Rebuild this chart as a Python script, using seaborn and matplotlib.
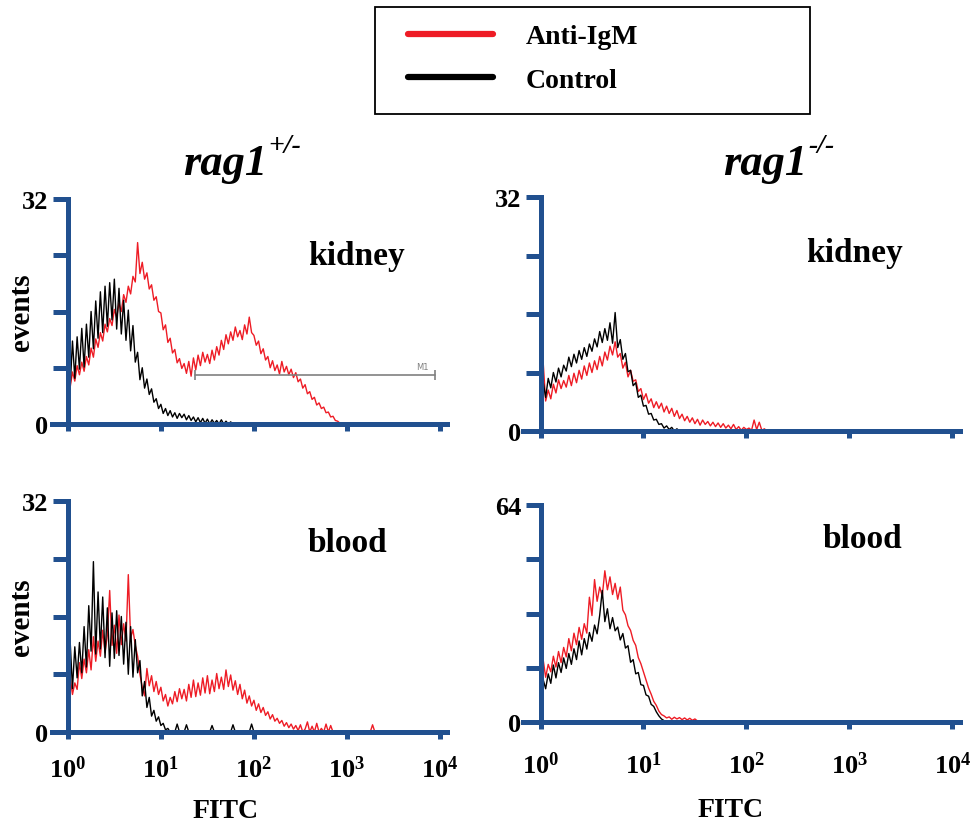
import numpy as np
import pandas as pd
import matplotlib
matplotlib.use("Agg")
import matplotlib.pyplot as plt
from matplotlib.lines import Line2D
from matplotlib.patches import Rectangle
from matplotlib.ticker import FixedLocator, FixedFormatter, NullLocator
import seaborn as sns

# =========================
# Data: histogram counts per channel (FITC, log scale)
# =========================
LOG_STEP = 0.025  # decades per channel of the cytometer histogram

# rag1 +/- kidney
het_kidney_anti = [
    6.5, 5.2, 7.4, 6.1, 8.3, 7.0, 8.8, 7.5, 9.6, 8.4,
    10.8, 9.5, 12.1, 10.9, 13.0, 11.8, 14.2, 13.1, 15.0, 14.0,
    16.3, 15.1, 17.2, 16.0, 18.4, 17.3, 19.6, 18.5, 21.0, 20.2,
    25.8, 21.4, 23.0, 20.6, 21.5, 19.2, 19.8, 17.6, 18.1, 16.0,
    15.8, 13.4, 14.1, 11.6, 12.2, 10.1, 10.6, 8.7, 9.3, 7.9,
    8.6, 7.2, 8.9, 6.8, 9.4, 7.7, 9.8, 8.3, 10.2, 8.8,
    9.9, 8.6, 10.5, 9.1, 11.0, 9.8, 11.9, 10.6, 12.7, 11.4,
    13.1, 11.9, 13.8, 12.4, 13.3, 12.0, 14.1, 12.8, 15.2, 13.0,
    12.6, 11.2, 11.8, 10.0, 10.7, 9.1, 9.6, 8.0, 9.0, 7.6,
    8.4, 7.1, 8.9, 7.4, 8.2, 7.0, 7.8, 6.6, 7.3, 6.0,
    6.4, 5.1, 5.6, 4.3, 4.6, 3.5, 3.8, 2.7, 3.0, 2.2,
    2.4, 1.6, 1.7, 1.0, 1.1, 0.5, 0.4, 0.1, 0.0, 0.0,
]
het_kidney_ctrl = [
    9.0, 5.2, 11.8, 6.5, 12.4, 7.8, 13.6, 8.1, 14.2, 9.5,
    16.0, 10.7, 17.5, 12.2, 18.8, 13.0, 19.6, 13.9, 20.1, 14.8,
    20.6, 13.5, 19.3, 12.8, 17.6, 11.9, 16.2, 10.4, 14.0, 8.8,
    10.2, 6.3, 8.0, 5.1, 6.4, 4.2, 5.0, 3.1, 3.6, 2.2,
    2.8, 1.5, 2.2, 1.2, 1.9, 1.0, 1.6, 0.8, 1.5, 0.9,
    1.4, 0.6, 1.2, 0.5, 1.0, 0.3, 0.9, 0.2, 0.8, 0.1,
    0.7, 0.0, 0.6, 0.1, 0.5, 0.0, 0.6, 0.0, 0.4, 0.0,
    0.3, 0.0, 0.2, 0.0,
]

# rag1 -/- kidney
ko_kidney_anti = [
    3.2, 9.6, 4.1, 5.6, 4.4, 6.4, 5.2, 7.0, 5.8, 6.9,
    6.0, 7.6, 6.2, 7.9, 6.6, 8.3, 7.1, 8.9, 7.6, 9.3,
    8.0, 9.6, 8.4, 10.2, 8.9, 10.8, 9.7, 11.6, 10.4, 12.2,
    10.1, 10.6, 8.6, 9.4, 7.4, 8.3, 6.8, 7.0, 5.4, 5.8,
    4.3, 5.1, 3.8, 4.4, 3.2, 4.0, 3.1, 3.8, 2.6, 3.4,
    2.4, 3.1, 2.0, 2.8, 1.7, 2.3, 1.4, 2.0, 1.2, 1.8,
    1.0, 1.6, 0.8, 1.5, 0.9, 1.3, 0.7, 1.2, 0.6, 1.1,
    0.5, 1.0, 0.4, 0.8, 0.3, 0.9, 0.2, 0.6, 0.1, 0.5,
    0.2, 0.4, 0.1, 1.5, 0.2, 1.2, 0.1, 0.3, 0.0,
]
ko_kidney_ctrl = [
    5.0, 6.8, 4.6, 7.2, 5.9, 8.0, 6.7, 8.6, 7.4, 9.0,
    8.2, 10.1, 8.8, 10.5, 9.3, 11.0, 9.8, 11.4, 10.2, 11.9,
    10.9, 12.6, 11.5, 13.6, 12.1, 14.0, 12.4, 14.8, 12.0, 16.2,
    11.4, 12.5, 9.8, 10.6, 8.1, 8.3, 6.2, 6.6, 4.6, 4.9,
    3.4, 3.5, 2.3, 2.4, 1.5, 1.6, 0.9, 1.0, 0.4, 0.7,
    0.2, 0.5, 0.0, 0.3, 0.0, 0.0,
]

# rag1 +/- blood
het_blood_anti = [
    4.0, 7.5, 5.2, 6.8, 5.9, 9.6, 7.4, 10.1, 8.2, 11.4,
    8.6, 13.2, 9.8, 12.6, 10.5, 14.1, 11.0, 13.4, 19.6, 12.0,
    14.8, 10.9, 16.2, 12.1, 15.0, 12.6, 21.8, 13.0, 14.2, 12.0,
    10.5, 8.0, 6.2, 5.0, 8.8, 6.4, 7.8, 5.6, 7.0, 5.2,
    6.2, 4.3, 5.2, 3.6, 4.8, 3.9, 5.6, 4.2, 6.0, 4.6,
    5.9, 4.3, 6.6, 4.8, 7.2, 4.9, 6.8, 5.1, 7.5, 5.4,
    7.8, 5.3, 7.2, 5.6, 8.1, 6.0, 7.6, 5.9, 8.6, 6.3,
    7.9, 5.8, 7.1, 5.2, 6.6, 4.6, 5.8, 4.0, 5.0, 3.6,
    4.4, 3.0, 3.9, 2.7, 3.4, 2.3, 2.8, 1.8, 2.4, 1.5,
    1.9, 1.2, 1.6, 0.8, 1.3, 0.6, 1.1, 0.4, 0.9, 0.2,
    1.0, 0.0, 0.4, 1.4, 0.0, 0.8, 0.0, 1.2, 0.0, 0.5,
    0.0, 1.1, 0.0, 0.9, 0.0, 0.0, 0.0, 0.0, 0.0, 0.0,
    0.0, 0.0, 0.0, 0.0, 0.0, 0.0, 0.0, 0.0, 0.0, 0.0,
    0.0, 1.0, 0.0,
]
het_blood_ctrl = [
    8.5, 12.6, 6.0, 11.8, 7.5, 12.4, 8.2, 14.6, 9.0, 17.5,
    11.2, 23.6, 10.8, 19.4, 11.5, 18.7, 10.3, 17.2, 9.1, 16.5,
    10.2, 16.8, 10.6, 16.0, 9.4, 15.2, 8.0, 14.6, 7.6, 12.8,
    8.2, 9.9, 5.0, 7.0, 3.4, 4.8, 2.2, 3.0, 1.5, 2.1,
    0.9, 1.2, 0.3, 0.5, 0.0, 0.2, 0.0, 1.1, 0.0, 0.0,
    0.0, 1.0, 0.0, 0.0, 0.0, 0.0, 0.0, 0.0, 0.0, 0.0,
    0.0, 0.0, 0.9, 0.0, 0.0, 0.0, 0.0, 0.0, 0.0, 0.0,
    0.0, 1.0, 0.0, 0.0, 0.0, 0.0, 0.0, 0.0, 0.0, 1.1,
    0.0,
]

# rag1 -/- blood
ko_blood_anti = [
    11.0, 18.6, 13.2, 17.0, 14.8, 19.4, 16.2, 20.8, 17.5, 22.0,
    19.2, 24.6, 21.0, 26.2, 22.8, 27.9, 24.4, 29.0, 26.2, 36.8,
    31.4, 42.0, 35.6, 39.8, 37.2, 44.6, 39.0, 42.8, 37.6, 40.9,
    36.2, 39.8, 33.0, 31.6, 28.4, 27.0, 24.1, 22.6, 19.0, 17.2,
    14.8, 12.4, 10.0, 8.2, 6.1, 4.9, 3.2, 2.2, 1.8, 1.2,
    1.5, 0.8, 1.4, 0.9, 1.3, 0.7, 1.2, 0.6, 1.1, 0.5,
    0.9, 0.3, 0.0,
]
ko_blood_ctrl = [
    8.5, 12.6, 9.8, 14.2, 11.4, 16.8, 13.0, 17.5, 14.6, 18.9,
    15.8, 20.2, 17.0, 21.6, 18.4, 23.9, 19.8, 24.6, 21.5, 26.4,
    23.8, 28.6, 26.0, 31.5, 38.8, 29.6, 33.4, 27.5, 30.8, 26.9,
    28.0, 24.2, 26.1, 21.8, 22.5, 17.6, 18.4, 14.2, 14.6, 11.0,
    10.8, 8.0, 7.6, 5.2, 4.6, 3.0, 1.8, 0.9, 0.4, 0.0,
]

# M1 gate drawn on the rag1 +/- kidney histogram
M1_RANGE = [23, 8900]
M1_LEVEL = 7.0

SAMPLES = ["Anti-IgM", "Control"]
X_TICKS = [1, 10, 100, 1000, 10000]
X_TICK_LABELS = ["$10^{0}$", "$10^{1}$", "$10^{2}$", "$10^{3}$", "$10^{4}$"]

RED = "#ee1c25"
AXIS_BLUE = "#21508f"
W, H = 971, 828


def to_frame(anti, ctrl):
    parts = []
    for name, counts in zip(SAMPLES, (anti, ctrl)):
        fitc = 10 ** (np.arange(len(counts)) * LOG_STEP)
        parts.append(pd.DataFrame({"FITC": fitc, "events": counts, "sample": name}))
    return pd.concat(parts, ignore_index=True)


def px_box(left, top, right, bottom):
    return [left / W, 1 - bottom / H, (right - left) / W, (bottom - top) / H]


sns.set_style("white")
plt.rcParams["font.family"] = ["Liberation Serif", "DejaVu Serif"]
plt.rcParams["font.weight"] = "bold"
plt.rcParams["axes.labelweight"] = "bold"
plt.rcParams["text.color"] = "black"
plt.rcParams["axes.labelcolor"] = "black"
plt.rcParams["xtick.labelcolor"] = "black"
plt.rcParams["ytick.labelcolor"] = "black"
plt.rcParams["mathtext.fontset"] = "custom"
plt.rcParams["mathtext.rm"] = "Liberation Serif:bold"
plt.rcParams["mathtext.it"] = "Liberation Serif:bold:italic"
plt.rcParams["mathtext.bf"] = "Liberation Serif:bold"

fig = plt.figure(figsize=(W / 100, H / 100), dpi=100)

panels = [
    # box px, data, ymax, title, title px (x, baseline), bottom row
    dict(box=(52, 200, 447, 425), df=to_frame(het_kidney_anti, het_kidney_ctrl),
         ymax=32, title="kidney", tpos=(356, 265), bottom=False, left=True),
    dict(box=(523, 198, 960, 432), df=to_frame(ko_kidney_anti, ko_kidney_ctrl),
         ymax=32, title="kidney", tpos=(854, 262), bottom=False, left=False),
    dict(box=(52, 502, 447, 733), df=to_frame(het_blood_anti, het_blood_ctrl),
         ymax=32, title="blood", tpos=(347, 552), bottom=True, left=True, xpad=12,
         xlab=(0.44, -0.285)),
    dict(box=(523, 506, 960, 723), df=to_frame(ko_blood_anti, ko_blood_ctrl),
         ymax=64, title="blood", tpos=(862, 548), bottom=True, left=False, xpad=16,
         xlab=(0.474, -0.345)),
]

axes = []
for p in panels:
    ax = fig.add_axes(px_box(*p["box"]))
    sns.lineplot(data=p["df"], x="FITC", y="events", hue="sample",
                 hue_order=SAMPLES, palette={"Anti-IgM": RED, "Control": "black"},
                 estimator=None, legend=False, lw=1.0, ax=ax)
    ax.set_xscale("log")
    ax.set_xlim(10 ** -0.17, 10 ** 4.075)
    ax.set_ylim(0, p["ymax"])

    for side in ("top", "right"):
        ax.spines[side].set_visible(False)
    ax.spines["left"].set_position(("data", 1))
    for side in ("left", "bottom"):
        ax.spines[side].set_color(AXIS_BLUE)
        ax.spines[side].set_linewidth(3.6)

    ymax = p["ymax"]
    ax.yaxis.set_major_locator(FixedLocator([0, ymax / 4, ymax / 2, 3 * ymax / 4, ymax]))
    ax.yaxis.set_major_formatter(FixedFormatter(["0", "", "", "", str(ymax)]))
    ax.xaxis.set_major_locator(FixedLocator(X_TICKS))
    ax.xaxis.set_minor_locator(NullLocator())
    if p["bottom"]:
        ax.xaxis.set_major_formatter(FixedFormatter(X_TICK_LABELS))
        ax.tick_params(axis="x", pad=p["xpad"])
        ax.set_xlabel("FITC", fontsize=20, fontweight="bold")
        ax.xaxis.set_label_coords(*p["xlab"])
    else:
        ax.xaxis.set_major_formatter(FixedFormatter([""] * 5))
        ax.set_xlabel("")
    ax.tick_params(axis="x", direction="out", length=5, width=3.6,
                   color=AXIS_BLUE, labelsize=19, bottom=True)
    ax.tick_params(axis="y", direction="out", length=11, width=3.6,
                   color=AXIS_BLUE, labelsize=19, pad=3, left=True)

    if p["left"]:
        ax.set_ylabel("events", fontsize=21, fontweight="bold")
        ax.yaxis.set_label_coords(-0.043, 0.5)
    else:
        ax.set_ylabel("")

    fig.text(p["tpos"][0] / W, 1 - p["tpos"][1] / H, p["title"],
             ha="center", va="baseline", fontsize=24, fontweight="bold")
    axes.append(ax)

# M1 gate marker
axes[0].plot(M1_RANGE, [M1_LEVEL, M1_LEVEL], color="#808080", lw=1.2,
             marker="|", ms=7, mew=1.2)
axes[0].text(M1_RANGE[1] * 0.72, M1_LEVEL + 0.6, "M1", fontsize=6,
             color="#808080", ha="center", va="bottom", fontweight="normal",
             family="DejaVu Sans")

# genotype headers
for x_px, sup in ((267, "+/-"), (807, "-/-")):
    fig.text(x_px / W, 1 - 175 / H, "rag1", ha="right", va="baseline",
             fontsize=32, fontweight="bold", fontstyle="italic")
    fig.text((x_px + 1) / W, 1 - 153 / H, sup, ha="left", va="baseline",
             fontsize=20, fontweight="bold", fontstyle="italic")

# legend
fig.add_artist(Rectangle((375 / W, 1 - 115 / H), 435 / W, 107 / H,
                         transform=fig.transFigure, fill=False,
                         ec="black", lw=1.3))
handles = [Line2D([], [], color=RED, lw=4.5), Line2D([], [], color="black", lw=4.5)]
fig.legend(handles, SAMPLES, loc="upper left", bbox_to_anchor=(408 / W, 1 - 25 / H),
           frameon=False, borderpad=0, borderaxespad=0, handlelength=3.05,
           handletextpad=1.2, labelspacing=0.65,
           prop={"family": "Liberation Serif", "weight": "bold", "size": 20})

fig.savefig("out.png", dpi=100)
